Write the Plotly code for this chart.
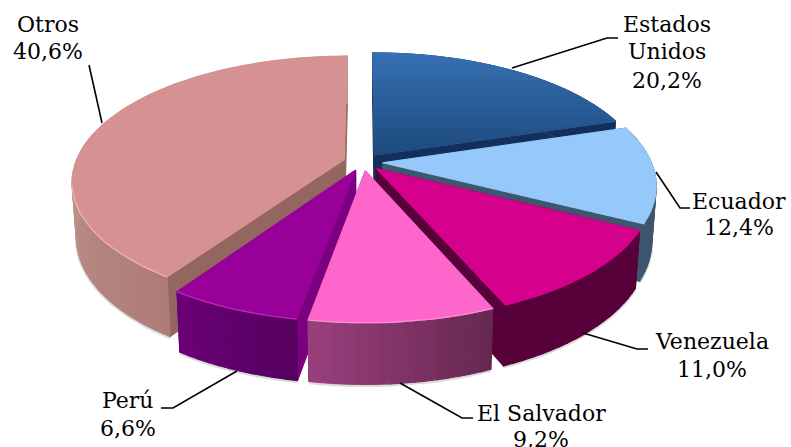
import math
import plotly.graph_objects as go

categories = ["Estados Unidos", "Ecuador", "Venezuela", "El Salvador", "Perú", "Otros"]
values = [20.2, 12.4, 11.0, 9.2, 6.6, 40.6]
label_lines = [["Estados", "Unidos"], ["Ecuador"], ["Venezuela"], ["El Salvador"], ["Perú"], ["Otros"]]

top_colors = ["#3670B3", "#95C9FC", "#D5008C", "#FF66CC", "#990099", "#D69292"]
top_colors_end = ["#1E4A7E", None, None, None, None, None]
wall_from = ["#14305A", "#3F566F", "#57003A", "#662850", "#560060", "#C29A94"]
wall_to = ["#14305A", "#3F566F", "#57003A", "#9C4080", "#6C0078", "#AE7C76"]
face_colors = ["#14305A", "#3F566F", "#57003A", "#6C2A55", "#7A0080", "#93675F"]
rim_colors = [None, None, None, "#FF8CDC", "#B82CB8", "#F5B4A8"]

CX, CY, RX, RY, K, EXPLODE = 363.0, 162.0, 268.5, 122.0, 0.174, 0.073
FONT = "DejaVu Serif"
FONT_SIZE = 22

# label: (centre x, [y per line])
label_pos = [(667, [24, 51, 80]), (739, [201, 227]), (712, [341, 369]),
             (541, [413, 439]), (128, [400, 428]), (48, [24, 51])]
leaders = [
    [(512, 68), (607, 38), (618, 38)],
    [(656, 172), (680, 208), (690, 208)],
    [(583, 333), (637, 349), (648, 349)],
    [(400, 383), (462, 418), (473, 418)],
    [(237, 371), (173, 408), (161, 408)],
    [(89, 65), (102, 123)],
]


def project(u, v, depth=0.0):
    s = 1.0 / (1.0 - K * v)
    x, y = CX + RX * u * s, CY + RY * v * s
    if depth:
        x = CX + (x - CX) * (1 - 0.015 * depth)
        y += depth * (54 + 7 * v)
    return x, y


def hex_rgb(c):
    return tuple(int(c[i:i + 2], 16) for i in (1, 3, 5))


def mix(a, b, t):
    ra, rb = hex_rgb(a), hex_rgb(b)
    return "#%02x%02x%02x" % tuple(round(p + (q - p) * t) for p, q in zip(ra, rb))


fig = go.Figure()


def poly(points, color):
    fig.add_trace(go.Scatter(x=[p[0] for p in points] + [points[0][0]],
                             y=[p[1] for p in points] + [points[0][1]],
                             mode="lines", fill="toself", fillcolor=color,
                             line=dict(color=color, width=1.2),
                             hoverinfo="skip", showlegend=False))


def clip_band(points, y0, y1):
    def clip(pts, inside, cross):
        out = []
        for i, p in enumerate(pts):
            q = pts[i - 1]
            if inside(p) != inside(q):
                out.append(cross(q, p))
            if inside(p):
                out.append(p)
        return out

    def at(y):
        return lambda a, b: (a[0] + (b[0] - a[0]) * (y - a[1]) / (b[1] - a[1]), y)

    pts = clip(points, lambda p: p[1] >= y0, at(y0))
    return clip(pts, lambda p: p[1] <= y1, at(y1)) if pts else pts


# slice geometry comes from the values
total = sum(values)
bounds = []
acc = 0.0
for v in values:
    bounds.append((acc / total * 2 * math.pi, (acc + v) / total * 2 * math.pi))
    acc += v


def rim(i, a, depth=0.0):
    a0, a1 = bounds[i]
    m = (a0 + a1) / 2
    return project(math.sin(a) + EXPLODE * math.sin(m), -math.cos(a) - EXPLODE * math.cos(m), depth)


def apex(i, depth=0.0):
    a0, a1 = bounds[i]
    m = (a0 + a1) / 2
    return project(EXPLODE * math.sin(m), -EXPLODE * math.cos(m), depth)


for i in [5, 0, 1, 2, 4, 3]:
    a0, a1 = bounds[i]
    n = max(int((a1 - a0) / math.radians(2)), 4)
    angles = [a0 + (a1 - a0) * j / n for j in range(n + 1)]
    # radial cut faces
    for a in (a0, a1):
        poly([apex(i), rim(i, a), rim(i, a, 1), apex(i, 1)], face_colors[i])
    # soft shadow beneath the wall
    fig.add_trace(go.Scatter(x=[rim(i, a, 1.02)[0] for a in angles], y=[rim(i, a, 1.02)[1] for a in angles],
                             mode="lines", line=dict(color="rgba(90,90,90,0.22)", width=3),
                             hoverinfo="skip", showlegend=False))
    # outer wall
    for j in range(n):
        col = mix(wall_from[i], wall_to[i], j / n) if i != 5 else mix(wall_to[i], wall_from[i], min(1, j / (n * 0.5)))
        poly([rim(i, angles[j]), rim(i, angles[j + 1]), rim(i, angles[j + 1], 1), rim(i, angles[j], 1)], col)
    # top face
    top = [apex(i)] + [rim(i, a) for a in angles]
    poly(top, top_colors[i])
    if top_colors_end[i]:
        ys = [p[1] for p in top]
        lo, hi = min(ys), max(ys)
        bands = 28
        for b in range(bands):
            y0 = lo + (hi - lo) * b / bands
            y1 = lo + (hi - lo) * (b + 1) / bands
            piece = clip_band(top, y0, y1)
            if len(piece) > 2:
                poly(piece, mix(top_colors[i], top_colors_end[i], (b + 0.5) / bands))
    if rim_colors[i]:
        front = [a for a in angles if -math.cos(a) > 0.2]
        fig.add_trace(go.Scatter(x=[rim(i, a)[0] for a in front], y=[rim(i, a)[1] for a in front],
                                 mode="lines", line=dict(color=rim_colors[i], width=1.2),
                                 hoverinfo="skip", showlegend=False))

# leader lines
for path in leaders:
    fig.add_trace(go.Scatter(x=[p[0] for p in path], y=[p[1] for p in path], mode="lines",
                             line=dict(color="black", width=1.6), hoverinfo="skip", showlegend=False))

# labels
for i, (lx, lys) in enumerate(label_pos):
    pct = f"{values[i]:.1f}".replace(".", ",") + "%"
    for text, ly in zip(label_lines[i] + [pct], lys):
        fig.add_annotation(x=lx, y=ly, text=text, showarrow=False, xanchor="center", yanchor="middle",
                           font=dict(family=FONT, size=FONT_SIZE, color="black"))

fig.update_layout(
    width=791, height=447, margin=dict(l=0, r=0, t=0, b=0),
    paper_bgcolor="white", plot_bgcolor="white", showlegend=False,
    xaxis=dict(range=[0, 791], visible=False, fixedrange=True),
    yaxis=dict(range=[447, 0], visible=False, fixedrange=True),
)
fig.write_html("out.html", config={"displayModeBar": False},
               post_script="document.body.style.margin='0';document.documentElement.style.overflow='hidden';")
